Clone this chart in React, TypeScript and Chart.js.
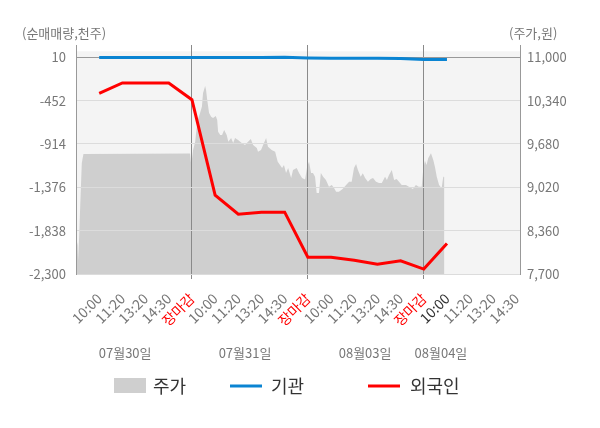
import { useEffect, useRef } from "react";
import { Chart, registerables } from "chart.js";
import type { Plugin } from "chart.js";

Chart.register(...registerables);

// x-axis slots: one per label, day boundaries sit on "장마감"
const xTickLabels = [
  "10:00", "11:20", "13:20", "14:30", "장마감",
  "10:00", "11:20", "13:20", "14:30", "장마감",
  "10:00", "11:20", "13:20", "14:30", "장마감",
  "10:00", "11:20", "13:20", "14:30",
];
const dayLabels = ["07월30일", "07월31일", "08월03일", "08월04일"];

const leftTicks = [10, -452, -914, -1376, -1838, -2300];
const rightTicks = [11000, 10340, 9680, 9020, 8360, 7700];

// net buying (thousand shares) sampled at slots 1..16
const flowSlots = [1, 2, 3, 4, 5, 6, 7, 8, 9, 10, 11, 12, 13, 14, 15, 16];
const institution = [8, 8, 8, 8, 8, 8, 8, 8, 10, 2, -1, -1, -1, -3, -14, -14];
const foreign = [
  -374, -264, -264, -264, -442, -1459, -1662, -1641, -1641, -2121, -2121, -2153,
  -2196, -2160, -2248, -1975,
];

// intraday price (won)
const priceSlots = [
  0.01, 0.07, 0.09, 0.14, 0.18, 0.25, 0.32, 4.92,
  4.97, 5.05, 5.14, 5.18, 5.25, 5.35, 5.43, 5.48, 5.57, 5.61, 5.66, 5.74, 5.83, 5.91,
  6.03, 6.09, 6.13, 6.22, 6.3, 6.39, 6.5, 6.57, 6.69, 6.78, 6.86, 6.99, 7.15, 7.29,
  7.42, 7.54, 7.64, 7.8, 7.85, 7.98, 8.07, 8.2, 8.28, 8.44, 8.59, 8.7, 8.8, 8.89,
  8.97, 9.06, 9.15, 9.28, 9.36, 9.52, 9.62, 9.75, 9.88,
  9.97, 10.05, 10.14, 10.22, 10.31, 10.38, 10.48, 10.56, 10.66, 10.78, 10.91, 11.03,
  11.13, 11.22, 11.34, 11.5, 11.65, 11.78, 11.89, 11.99, 12.08, 12.16, 12.28, 12.37,
  12.47, 12.59, 12.71, 12.81, 12.94, 13.07, 13.19, 13.33, 13.41, 13.5, 13.62, 13.72,
  13.83, 13.93, 14.05, 14.23, 14.36, 14.53, 14.66, 14.78, 14.91,
  14.98, 15.05, 15.12, 15.19, 15.31, 15.41, 15.48, 15.56, 15.66, 15.77, 15.84, 15.89,
];
const prices = [
  8248, 8142, 7913, 8294, 8720, 9391, 9528, 9535,
  9360, 9589, 9715, 9847, 10045, 10152, 10248, 10457, 10563, 10502, 10350, 10152, 10096, 10076,
  10106, 10045, 9867, 9817, 9817, 9893, 9817, 9715, 9771, 9695, 9771, 9741, 9695, 9665,
  9715, 9756, 9665, 9619, 9563, 9589, 9665, 9771, 9639, 9589, 9563, 9410, 9360, 9314,
  9360, 9238, 9314, 9162, 9284, 9314, 9238, 9162, 9140,
  9334, 9410, 9238, 9238, 9182, 8934, 8934, 9238, 9182, 9132, 9030, 9055,
  9010, 8953, 8953, 8995, 9055, 9106, 9106, 9314, 9375, 9284, 9182, 9234,
  9162, 9106, 9147, 9162, 9106, 9086, 9086, 9182, 9132, 9208, 9284, 9132,
  9147, 9106, 9055, 9055, 9030, 8995, 9055, 9030, 9030,
  9310, 9426, 9360, 9462, 9538, 9436, 9334, 9182, 9055, 9005, 9182, 9177,
];

const FONT = "'Noto Sans CJK KR', 'Noto Sans', sans-serif";
const GRAY_TEXT = "#777777";
const BLUE = "#0a84d2";
const RED = "#ff0000";
const AREA = "#cfcfcf";

const decorPlugin: Plugin<"line"> = {
  id: "decor",
  beforeDraw(chart) {
    const { ctx, chartArea } = chart;
    const top = chart.scales.y.getPixelForValue(leftTicks[0]) - 6;
    ctx.save();
    ctx.fillStyle = "#f4f4f4";
    ctx.fillRect(chartArea.left, top, chartArea.right - chartArea.left, chartArea.bottom - top);
    ctx.restore();
  },
  afterDatasetDraw(chart, args) {
    // grid lines sit on top of the price area, under the flow lines
    if (args.index !== 0) return;
    const ctx = chart.ctx;
    ctx.save();
    for (const id of ["x", "y", "y1"]) {
      const scale: any = chart.scales[id];
      scale.drawGrid(chart.chartArea);
      scale.drawBorder();
    }
    ctx.restore();
  },
  afterDraw(chart) {
    const { ctx } = chart;
    const x = chart.scales.x;
    ctx.save();
    ctx.textBaseline = "middle";

    ctx.font = `13px ${FONT}`;
    ctx.fillStyle = GRAY_TEXT;
    ctx.textAlign = "left";
    ctx.fillText("(순매매량,천주)", 22, 33);
    ctx.fillText("(주가,원)", 509, 33);

    const dayPos = [2.12, 7.29, 12.47, 15.74];
    ctx.textAlign = "center";
    dayLabels.forEach((label, i) => {
      ctx.fillText(label, x.getPixelForValue(dayPos[i]), 353);
    });

    // legend
    const ly = 386;
    ctx.font = `18px ${FONT}`;
    ctx.textAlign = "left";
    ctx.fillStyle = AREA;
    ctx.fillRect(114, 378, 32, 15);
    ctx.fillStyle = "#333333";
    ctx.fillText("주가", 153, ly);

    ctx.lineWidth = 3;
    ctx.strokeStyle = BLUE;
    ctx.beginPath();
    ctx.moveTo(230, ly);
    ctx.lineTo(262, ly);
    ctx.stroke();
    ctx.fillText("기관", 271, ly);

    ctx.strokeStyle = RED;
    ctx.beginPath();
    ctx.moveTo(368, ly);
    ctx.lineTo(400, ly);
    ctx.stroke();
    ctx.fillText("외국인", 410, ly);
    ctx.restore();
  },
};

function FlowChart() {
  const canvasRef = useRef<HTMLCanvasElement | null>(null);

  useEffect(() => {
    const canvas = canvasRef.current;
    if (!canvas) return;

    Chart.defaults.font.family = FONT;

    const chart = new Chart(canvas, {
      type: "line",
      data: {
        datasets: [
          {
            label: "주가",
            data: priceSlots.map((s, i) => ({ x: s, y: prices[i] })),
            yAxisID: "y1",
            fill: "start",
            backgroundColor: AREA,
            borderWidth: 0,
            pointRadius: 0,
            tension: 0,
            order: 3,
          },
          {
            label: "기관",
            data: flowSlots.map((s, i) => ({ x: s, y: institution[i] })),
            yAxisID: "y",
            borderColor: BLUE,
            borderWidth: 3,
            pointRadius: 0,
            tension: 0,
            fill: false,
            order: 2,
          },
          {
            label: "외국인",
            data: flowSlots.map((s, i) => ({ x: s, y: foreign[i] })),
            yAxisID: "y",
            borderColor: RED,
            borderWidth: 3,
            pointRadius: 0,
            tension: 0,
            fill: false,
            order: 1,
          },
        ],
      },
      options: {
        responsive: false,
        animation: false,
        layout: { padding: { top: 45, left: 0, right: 0, bottom: 0 } },
        plugins: {
          legend: { display: false },
          tooltip: { enabled: false },
        },
        scales: {
          x: {
            type: "linear",
            min: 0,
            max: 19.15,
            afterBuildTicks(scale) {
              scale.ticks = xTickLabels.map((_, i) => ({ value: i + 1 }));
            },
            afterFit(scale) {
              scale.height = 154;
            },
            ticks: {
              autoSkip: false,
              minRotation: 45,
              maxRotation: 45,
              padding: 11,
              font: { size: 14 },
              color: (ctx) => {
                const label = xTickLabels[ctx.index];
                if (label === "장마감") return RED;
                if (ctx.index === 15) return "#333333";
                return GRAY_TEXT;
              },
              callback: (_v, i) => xTickLabels[i],
            },
            grid: {
              drawTicks: true,
              tickLength: 5,
              lineWidth: 1,
              color: (ctx) =>
                ctx.tick && [5, 10, 15].includes(ctx.tick.value) ? "#8a8a8a" : "rgba(0,0,0,0)",
            },
            border: { color: "#999999", width: 1 },
          },
          y: {
            position: "left",
            min: -2300,
            max: 141,
            afterBuildTicks(scale) {
              scale.ticks = leftTicks.map((v) => ({ value: v }));
            },
            afterFit(scale) {
              scale.width = 76;
            },
            ticks: {
              padding: 10,
              font: { size: 13 },
              color: GRAY_TEXT,
              callback: (v) => Number(v).toLocaleString("en-US"),
            },
            grid: {
              drawTicks: false,
              color: (ctx) => (ctx.tick && ctx.tick.value === leftTicks[0] ? "#999999" : "#dcdcdc"),
            },
            border: { color: "#999999", width: 1 },
          },
          y1: {
            position: "right",
            min: 7700,
            max: 11187,
            afterBuildTicks(scale) {
              scale.ticks = rightTicks.map((v) => ({ value: v }));
            },
            afterFit(scale) {
              scale.width = 80;
            },
            ticks: {
              padding: 7,
              font: { size: 13 },
              color: GRAY_TEXT,
              callback: (v) => Number(v).toLocaleString("en-US"),
            },
            grid: { display: false, drawTicks: false },
            border: { color: "#999999", width: 1 },
          },
        },
      },
      plugins: [decorPlugin],
    });

    return () => {
      chart.destroy();
    };
  }, []);

  return <canvas ref={canvasRef} width={600} height={428} style={{ display: "block" }} />;
}

export default function App() {
  return (
    <div style={{ position: "fixed", left: 0, top: 0, width: 600, height: 428, background: "#ffffff" }}>
      <FlowChart />
    </div>
  );
}
